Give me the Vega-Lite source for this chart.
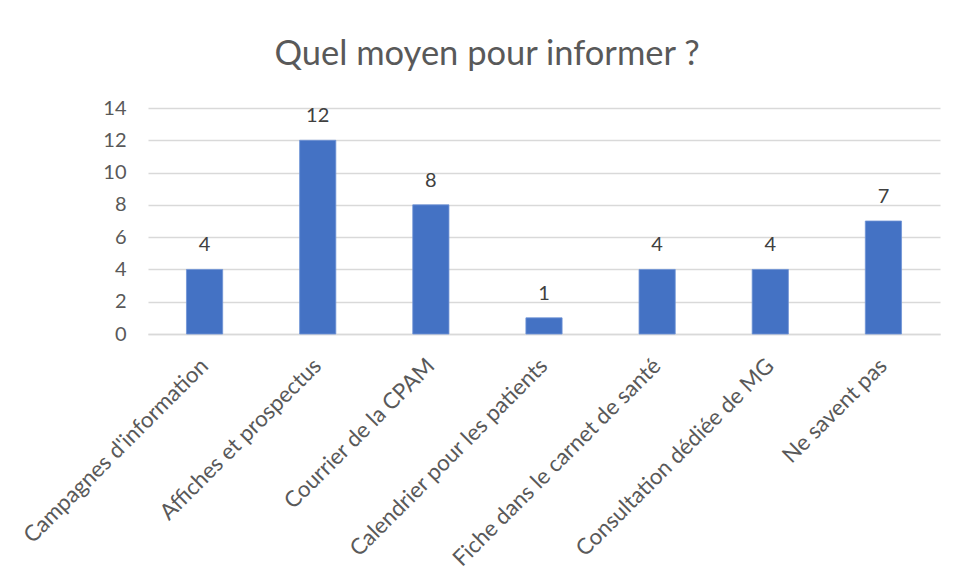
{
  "$schema": "https://vega.github.io/schema/vega-lite/v6.json",
  "autosize": "none",
  "width": 792,
  "height": 226,
  "padding": {"left": 148, "top": 108, "right": 18, "bottom": 246},
  "background": "white",
  "config": {"view": {"stroke": null}, "font": "Lato"},
  "title": {
    "text": "Quel moyen pour informer ?",
    "font": "Lato",
    "fontSize": 34.5,
    "fontWeight": "normal",
    "color": "#595959",
    "anchor": "middle",
    "dx": -57,
    "offset": 26
  },
  "data": {
    "values": [
      {"cat": "Campagnes d'information", "n": 4},
      {"cat": "Affiches et prospectus", "n": 12},
      {"cat": "Courrier de la CPAM", "n": 8},
      {"cat": "Calendrier pour les patients", "n": 1},
      {"cat": "Fiche dans le carnet de santé", "n": 4},
      {"cat": "Consultation dédiée de MG", "n": 4},
      {"cat": "Ne savent pas", "n": 7}
    ]
  },
  "encoding": {
    "x": {
      "field": "cat",
      "type": "nominal",
      "sort": null,
      "scale": {"paddingInner": 0.68, "paddingOuter": 0.34},
      "axis": {
        "title": null,
        "labelAngle": -45,
        "labelAlign": "right",
        "labelBaseline": "middle",
        "labelFont": "Lato",
        "labelFontSize": 22.3,
        "labelColor": "#595959",
        "labelPadding": 28,
        "ticks": false,
        "domainColor": "#D9D9D9",
        "domainWidth": 1.5,
        "labelLimit": 400
      }
    },
    "y": {
      "field": "n",
      "type": "quantitative",
      "scale": {"domain": [0, 14]},
      "axis": {
        "title": null,
        "values": [0, 2, 4, 6, 8, 10, 12, 14],
        "domain": false,
        "ticks": false,
        "labelFont": "Lato",
        "labelFontSize": 20,
        "labelColor": "#595959",
        "labelPadding": 22,
        "gridColor": "#D9D9D9",
        "gridWidth": 1.5
      }
    }
  },
  "layer": [
    {"mark": {"type": "bar", "color": "#4472C4", "stroke": "#6F93D6", "strokeWidth": 0.8}},
    {
      "mark": {"type": "text", "baseline": "alphabetic", "dy": -18, "font": "Lato", "fontSize": 20, "color": "#404040"},
      "encoding": {"text": {"field": "n", "type": "quantitative"}}
    }
  ]
}
